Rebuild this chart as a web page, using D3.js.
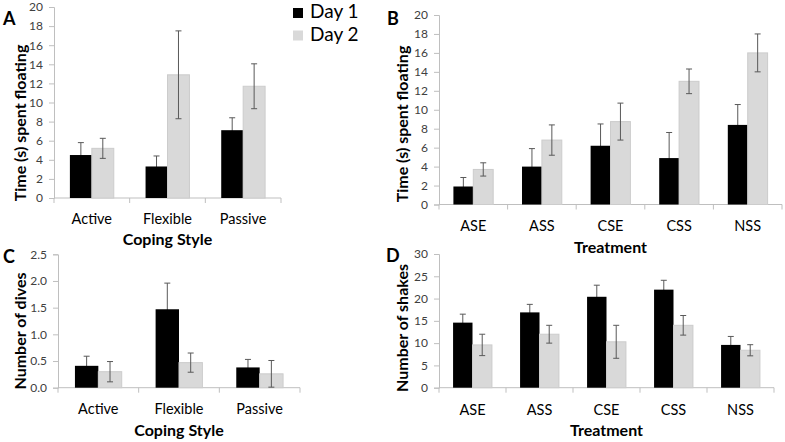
<!DOCTYPE html>
<html><head><meta charset="utf-8">
<script src="https://cdn.jsdelivr.net/npm/d3@7"></script>
<style>body{margin:0;background:#fff}svg{display:block}text{font-family:Lato,"Open Sans",sans-serif}</style>
</head><body>
<svg id="c" width="785" height="442"></svg>
<script>
// ---- data ----
const copingStyles = ["Active", "Flexible", "Passive"];
const treatments = ["ASE", "ASS", "CSE", "CSS", "NSS"];
const seriesNames = ["Day 1", "Day 2"];

const floatCopingDay1 = [4.5, 3.3, 7.1];
const floatCopingDay1Err = [1.3, 1.1, 1.3];
const floatCopingDay2 = [5.2, 12.9, 11.7];
const floatCopingDay2Err = [1.05, 4.6, 2.35];

const floatTreatDay1 = [1.9, 4.0, 6.2, 4.9, 8.4];
const floatTreatDay1Err = [0.95, 1.9, 2.3, 2.7, 2.15];
const floatTreatDay2 = [3.7, 6.8, 8.75, 13.0, 16.0];
const floatTreatDay2Err = [0.7, 1.6, 1.95, 1.3, 2.0];

const divesDay1 = [0.41, 1.47, 0.38];
const divesDay1Err = [0.18, 0.49, 0.15];
const divesDay2 = [0.30, 0.47, 0.26];
const divesDay2Err = [0.19, 0.18, 0.25];

const shakesDay1 = [14.6, 16.9, 20.4, 22.0, 9.6];
const shakesDay1Err = [1.9, 1.8, 2.6, 2.1, 1.9];
const shakesDay2 = [9.6, 12.0, 10.3, 14.0, 8.4];
const shakesDay2Err = [2.4, 2.0, 3.7, 2.2, 1.25];

const ticksFloat = [0, 2, 4, 6, 8, 10, 12, 14, 16, 18, 20];
const ticksDives = [0, 0.5, 1.0, 1.5, 2.0, 2.5];
const ticksShakes = [0, 5, 10, 15, 20, 25, 30];

// ---- drawing ----
const svg = d3.select("#c");
const C1 = "#000000", C2 = "#d9d9d9", AX = "#bfbfbf", ERR = "#595959";

function panel(o) {
  const g = svg.append("g");
  const x = d3.scaleBand().domain(o.cats).range([o.x0, o.x1]);
  const y = d3.scaleLinear().domain([0, o.ticks[o.ticks.length - 1]]).range([o.y0, o.y1]);
  const bw = x.bandwidth() * 0.29;
  const rows = o.cats.map((c, i) => ({c, v1: o.d1[i], e1: o.e1[i], v2: o.d2[i], e2: o.e2[i]}));

  // y axis
  const ya = g.append("g").attr("transform", `translate(${o.x0},0)`)
    .call(d3.axisLeft(y).tickValues(o.ticks).tickFormat(o.fmt).tickSize(5).tickPadding(6));
  ya.select(".domain").attr("stroke", AX);
  ya.selectAll(".tick line").attr("stroke", AX);
  ya.selectAll(".tick text").attr("fill", "#404040").style("font-size", "12px");

  // x axis
  g.append("line").attr("x1", o.x0).attr("x2", o.x1).attr("y1", o.y0).attr("y2", o.y0).attr("stroke", AX);
  const bounds = o.cats.map(c => x(c)).concat([x(o.cats[o.cats.length - 1]) + x.bandwidth()]);
  g.selectAll(".div").data(bounds).join("line")
    .attr("x1", d => d).attr("x2", d => d).attr("y1", o.y0).attr("y2", o.y0 + 5).attr("stroke", AX);
  g.selectAll(".xl").data(o.cats).join("text")
    .attr("x", d => x(d) + x.bandwidth() / 2).attr("y", o.xlY)
    .attr("text-anchor", "middle").style("font-size", "14.5px").attr("fill", "#000").text(d => d);

  const cx = d => x(d.c) + x.bandwidth() / 2;
  function errs(xo, v, e) {
    const eg = g.append("g").attr("stroke", ERR).attr("stroke-width", 1);
    rows.forEach(d => {
      const xc = cx(d) + xo;
      eg.append("line").attr("x1", xc).attr("x2", xc).attr("y1", y(d[v] - d[e])).attr("y2", y(d[v] + d[e]));
      [d[v] - d[e], d[v] + d[e]].forEach(t => eg.append("line").attr("x1", xc - 3).attr("x2", xc + 3).attr("y1", y(t)).attr("y2", y(t)));
    });
  }
  errs(-bw / 2, "v1", "e1");
  g.selectAll(".b1").data(rows).join("rect")
    .attr("x", d => cx(d) - bw).attr("width", bw)
    .attr("y", d => y(d.v1)).attr("height", d => y(0) - y(d.v1)).attr("fill", C1);
  g.selectAll(".b2").data(rows).join("rect")
    .attr("x", d => cx(d)).attr("width", bw)
    .attr("y", d => y(d.v2)).attr("height", d => y(0) - y(d.v2)).attr("fill", C2)
    .attr("stroke", "#cccccc").attr("stroke-width", 1);
  errs(bw / 2, "v2", "e2");

  // titles
  g.append("text").attr("x", (o.x0 + o.x1) / 2).attr("y", o.xtY).attr("text-anchor", "middle")
    .style("font-size", "16px").style("font-weight", "bold").text(o.xTitle);
  g.append("text").attr("transform", `translate(${o.ytX},${o.ytY}) rotate(-90)`)
    .attr("text-anchor", "middle").attr("dominant-baseline", "central")
    .style("font-size", "16px").style("font-weight", "bold").text(o.yTitle);
  svg.append("text").attr("x", o.lx).attr("y", o.ly).style("font-size", "18px").style("font-weight", "bold").text(o.letter);
}

panel({cats: copingStyles, d1: floatCopingDay1, e1: floatCopingDay1Err, d2: floatCopingDay2, e2: floatCopingDay2Err,
  ticks: ticksFloat, fmt: d3.format("d"), x0: 54, x1: 281, y0: 198, y1: 7, xlY: 224, xtY: 245,
  xTitle: "Coping Style", yTitle: "Time (s) spent floating", ytX: 19, ytY: 123, letter: "A", lx: 3, ly: 25});
panel({cats: treatments, d1: floatTreatDay1, e1: floatTreatDay1Err, d2: floatTreatDay2, e2: floatTreatDay2Err,
  ticks: ticksFloat, fmt: d3.format("d"), x0: 439, x1: 782, y0: 204.5, y1: 15, xlY: 231, xtY: 253,
  xTitle: "Treatment", yTitle: "Time (s) spent floating", ytX: 401, ytY: 124, letter: "B", lx: 387, ly: 25});
panel({cats: copingStyles, d1: divesDay1, e1: divesDay1Err, d2: divesDay2, e2: divesDay2Err,
  ticks: ticksDives, fmt: d3.format(".1f"), x0: 58, x1: 300, y0: 387.7, y1: 254.3, xlY: 414, xtY: 436,
  xTitle: "Coping Style", yTitle: "Number of dives", ytX: 19, ytY: 331, letter: "C", lx: 3, ly: 263});
panel({cats: treatments, d1: shakesDay1, e1: shakesDay1Err, d2: shakesDay2, e2: shakesDay2Err,
  ticks: ticksShakes, fmt: d3.format("d"), x0: 439, x1: 774, y0: 387.7, y1: 254, xlY: 415, xtY: 436,
  xTitle: "Treatment", yTitle: "Number of shakes", ytX: 401, ytY: 328, letter: "D", lx: 386, ly: 262});

// legend
const leg = svg.append("g");
seriesNames.forEach((n, i) => {
  leg.append("rect").attr("x", 293).attr("y", 8 + i * 22.5).attr("width", 10).attr("height", 10).attr("fill", i ? C2 : C1);
  leg.append("text").attr("x", 310).attr("y", 18 + i * 23).style("font-size", "19px").text(n);
});
</script>
</body></html>
